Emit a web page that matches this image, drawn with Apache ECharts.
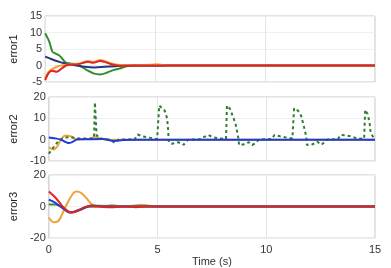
<!DOCTYPE html>
<html><head><meta charset="utf-8">
<script src="https://cdn.jsdelivr.net/npm/echarts@6/dist/echarts.min.js"></script>
<style>html,body{margin:0;padding:0;background:#fff}#c{width:391px;height:268px}</style>
</head><body><div id="c"></div>
<script>
// ---- data: [time (s), value] ----
const xTicks = [0, 5, 10, 15];
const e1Green = [[0,9.8],[0.1,8.5],[0.2,7.0],[0.33,4.2],[0.48,3.6],[0.63,3.1],[0.78,2.1],[0.93,0.9],[1.14,0.6],[1.45,0.3],[1.67,-0.4],[1.9,-1.4],[2.2,-2.4],[2.5,-2.7],[2.8,-2.2],[3.1,-1.4],[3.4,-0.9],[3.7,-0.2],[4.2,0],[15,0]];
const e1Blue = [[0,2.7],[0.3,1.9],[0.6,1.2],[0.9,0.6],[1.35,0.1],[1.8,-0.4],[2.26,-0.6],[2.7,-0.4],[3.16,-0.2],[3.6,0],[15,0]];
const e1Orange = [[0,-3.8],[0.15,-2.0],[0.3,-1.2],[0.55,-0.3],[0.8,0.1],[1.2,0.4],[1.6,0.6],[1.95,1.4],[2.2,1.1],[2.5,1.7],[2.75,1.3],[3.0,0.6],[3.5,0.1],[4.8,0.2],[5.1,0.4],[5.4,0.1],[6,0],[15,0]];
const e1Red = [[0,-4.4],[0.15,-2.4],[0.3,-1.6],[0.53,-1.9],[0.75,-0.9],[0.98,0.1],[1.5,0.4],[1.73,0.8],[1.95,1.1],[2.18,0.8],[2.5,1.4],[2.7,1.1],[3.0,0.4],[3.5,-0.1],[4,0],[15,0]];

const e2Green = [[0,-6.6],[0.2,-3.8],[0.45,-0.5],[0.7,1.0],[1.0,1.2],[1.4,0.5],[1.9,0.5],[2.08,1],[2.12,17.5],[2.2,2],[2.4,0.5],[2.8,0],[3.05,-1.5],[3.2,0],[3.95,0.2],[4.08,2.4],[4.3,1.6],[4.53,1.1],[4.98,0.3],[5.08,16],[5.33,13.6],[5.44,10],[5.48,5.6],[5.52,-1.2],[5.68,-1.9],[5.9,-1.2],[6.1,-1.5],[6.2,-2.4],[6.3,-1.2],[6.4,0],[7.0,0.2],[7.1,1.1],[7.33,2.2],[7.55,1.1],[7.85,0.6],[8.15,0.3],[8.19,16],[8.33,14.5],[8.5,10],[8.6,6.9],[8.72,0.6],[8.75,-2.5],[8.98,-2.2],[9.2,-1.2],[9.35,-2.5],[9.53,-1.5],[9.65,0],[10.25,0.3],[10.38,2.2],[10.63,1.6],[10.86,1.1],[11.2,0.6],[11.28,14.7],[11.46,13.6],[11.6,11.3],[11.72,6.6],[11.83,1.9],[11.87,-2.5],[12.13,-2.2],[12.35,-1.0],[12.53,-2.4],[12.68,-1.2],[12.8,0],[13.3,0.3],[13.42,2.2],[13.65,2.0],[13.87,1.6],[14.17,0.6],[14.5,0.4],[14.55,14],[14.66,12],[14.75,8],[14.8,3.3],[14.93,1],[15,0.5]];
const e2Orange = [[0,-3.6],[0.24,-4.6],[0.4,-3.0],[0.55,0.0],[0.77,1.9],[1.0,1.6],[1.15,0.6],[1.3,0.3],[1.9,0.3],[2.1,1.2],[2.3,0.8],[2.6,0],[15,0]];
const e2Blue = [[0,1.0],[0.3,0.6],[0.55,0.0],[0.75,-1.0],[0.9,-1.6],[1.1,-1.0],[1.3,0.1],[1.8,0.2],[2.5,0.3],[3.0,-0.6],[3.4,-0.2],[4,0],[15,0]];

const e3Orange = [[0,-6.9],[0.23,-10],[0.45,-9],[0.68,-2.8],[0.9,3.4],[1.13,8.5],[1.28,9.5],[1.5,8.5],[1.73,5.3],[1.95,1.8],[2.18,0.6],[2.6,0.5],[2.9,1.0],[3.2,0.4],[3.6,0.3],[3.9,0.6],[4.2,1.1],[4.5,0.8],[4.8,0.2],[5.3,0],[15,0]];
const e3Green = [[0,1.3],[0.3,1.3],[0.7,-1.0],[1.0,-3.7],[1.37,-2.6],[1.8,-0.2],[2.3,0],[15,0]];
const e3Blue = [[0,4.4],[0.3,2.4],[0.7,-1.7],[0.93,-3.7],[1.2,-3.1],[1.67,-0.6],[1.97,0.6],[2.4,0.2],[3,0],[15,0]];
const e3Red = [[0,9.5],[0.32,5.4],[0.62,0.3],[0.84,-2.8],[1.07,-3.8],[1.37,-2.4],[1.67,-0.2],[2.0,0.3],[2.5,-0.3],[3.0,-0.5],[3.5,0.1],[4.0,-0.4],[4.5,0.2],[5,0],[15,0]];

const C = {green:'#2f8f2f', navy:'#27357e', red:'#e32222', orange:'#eea43a', blue:'#1c3ad8', dgreen:'#2e7d32'};
const font = 'Liberation Sans, Arial, sans-serif';

const grids = [
  {left:43, right:16, top:16, height:66},
  {left:43, right:16, top:97, height:64},
  {left:43, right:16, top:175, height:65}
].map(g => Object.assign(g, {show:true, borderColor:'#c8c8c8', borderWidth:1, backgroundColor:'#fff'}));

function xAx(i, showLabels){
  return {type:'value', gridIndex:i, min:0, max:15, interval:5,
    axisLine:{show:false}, axisTick:{show:false},
    axisLabel:{show:showLabels, color:'#333', fontFamily:font, fontSize:11, margin:6,
      customValues: xTicks},
    splitLine:{show:true, lineStyle:{color:'#e4e4e4', width:1}},
    name: showLabels ? 'Time (s)' : '', nameLocation:'middle', nameGap:17,
    nameTextStyle:{color:'#333', fontFamily:font, fontSize:11}};
}
function yAx(i, min, max, interval, name){
  return {type:'value', gridIndex:i, min, max, interval,
    axisLine:{show:false}, axisTick:{show:false},
    axisLabel:{color:'#333', fontFamily:font, fontSize:11, margin:3},
    splitLine:{show:true, lineStyle:{color:'#f0f0f0', width:1}},
    name, nameLocation:'middle', nameGap:21, nameRotate:90,
    nameTextStyle:{color:'#222', fontFamily:font, fontSize:11}};
}
function line(data, color, i, opts){
  return Object.assign({type:'line', xAxisIndex:i, yAxisIndex:i, data, showSymbol:false,
    smooth:0.3, animation:false, lineStyle:{color, width:2}}, opts||{});
}

const chart = echarts.init(document.getElementById('c'), null, {renderer:'canvas'});
chart.setOption({
  animation:false,
  grid: grids,
  xAxis: [xAx(0,false), xAx(1,false), xAx(2,true)],
  yAxis: [yAx(0,-5,15,5,'error1'), yAx(1,-10,20,10,'error2'), yAx(2,-20,20,20,'error3')],
  series: [
    line(e1Green, C.green, 0),
    line(e1Blue, C.navy, 0),
    line(e1Orange, C.orange, 0),
    line(e1Red, C.red, 0),
    line(e2Orange, C.orange, 1),
    line(e2Green, C.dgreen, 1, {smooth:false, lineStyle:{color:C.dgreen, width:2, type:[3,3]}}),
    line(e2Blue, C.blue, 1),
    line(e3Orange, C.orange, 2),
    line(e3Green, C.green, 2),
    line(e3Blue, C.blue, 2),
    line(e3Red, C.red, 2)
  ]
});
</script></body></html>
